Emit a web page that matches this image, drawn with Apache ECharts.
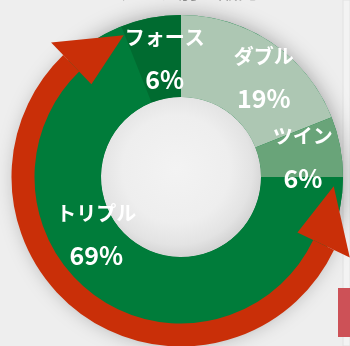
<!DOCTYPE html>
<html>
<head>
<meta charset="utf-8">
<script src="https://cdn.jsdelivr.net/npm/echarts@6/dist/echarts.min.js"></script>
<style>
  html, body { margin: 0; padding: 0; background: #eeeeee; }
  #chart { width: 350px; height: 346px; }
</style>
</head>
<body>
<div id="chart"></div>
<script>
// Room-type share of sales
const categories = ['ダブル', 'ツイン', 'トリプル', 'フォース'];
const shares = [19, 6, 69, 6];
const sliceColors = ['#adc7b3', '#69a479', '#007c3a', '#006b30'];
const titleText = 'ルームタイプ別の販売';

// label nudges (px) relative to the default inside position
const labelNudge = [[13, 4], [0, 5], [-15, -44], [7, 4]];

const CX = 181, CY = 177, R0 = 80, R1 = 162;

// Double-headed arc arrow wrapping the large slice
function arcArrow() {
  const ac = [181, 177], r = 158, w = 23;
  const a0 = 25.5 * Math.PI / 180, a1 = 226 * Math.PI / 180;
  const half = 29, tipR = 153, tipAng = 22 * Math.PI / 180;
  const pt = (rad, ang) => [ac[0] + rad * Math.cos(ang), ac[1] + rad * Math.sin(ang)];
  const head = (ang, dir) => [pt(r - half, ang), pt(r + half, ang), pt(tipR, ang + dir * tipAng)];
  const red = '#c92f08';
  return [
    { type: 'arc', z: 20, silent: true,
      shape: { cx: ac[0], cy: ac[1], r: r, startAngle: a0, endAngle: a1, clockwise: true },
      style: { stroke: red, lineWidth: w, fill: null, lineCap: 'butt' } },
    { type: 'polygon', z: 20, silent: true, shape: { points: head(a1, 1) }, style: { fill: red } },
    { type: 'polygon', z: 20, silent: true, shape: { points: head(a0, -1) }, style: { fill: red } }
  ];
}

const chart = echarts.init(document.getElementById('chart'), null, { renderer: 'canvas' });
chart.setOption({
  backgroundColor: '#eeeeee',
  animation: false,
  graphic: [
    { type: 'rect', z: 0, silent: true, shape: { x: 343, y: 0, width: 7, height: 346 },
      style: { fill: '#f3f3f3', stroke: '#e2e2e2', lineWidth: 1 } },
    { type: 'text', z: 1, silent: true, left: 58, top: -19,
      style: { text: titleText, fill: '#8a8a8a', font: 'bold 20px "Noto Sans CJK JP"' } },
    // soft shadow under the ring
    { type: 'ring', z: 0, silent: true, shape: { cx: CX, cy: CY, r: R1, r0: R0 },
      style: { fill: '#007c3a', shadowBlur: 22, shadowColor: 'rgba(0,0,0,0.38)', shadowOffsetX: 0, shadowOffsetY: 2 } },
    // shaded centre of the doughnut
    { type: 'circle', z: 1, silent: true, shape: { cx: CX, cy: CY, r: R0 },
      style: { fill: new echarts.graphic.RadialGradient(0.47, 0.45, 0.56, [
        { offset: 0, color: '#f3f3f3' },
        { offset: 0.6, color: '#eeeeee' },
        { offset: 0.85, color: '#e3e3e3' },
        { offset: 1, color: '#d2d2d2' }
      ]) } },
    { type: 'rect', z: 30, silent: true, shape: { x: 338, y: 288, width: 14, height: 49 },
      style: { fill: '#cd5157' } },
    ...arcArrow()
  ],
  series: [{
    type: 'pie',
    z: 5,
    center: [CX, CY],
    radius: [R0, R1],
    startAngle: 90,
    clockwise: true,
    percentPrecision: 0,
    avoidLabelOverlap: false,
    itemStyle: { borderWidth: 0 },
    label: {
      show: true,
      position: 'inside',
      color: '#ffffff',
      formatter: '{n|{b}}\n{p|{d}%}',
      rich: {
        n: { fontFamily: 'Noto Sans CJK JP', fontSize: 20, fontWeight: 'bold', color: '#fff', lineHeight: 40 },
        p: { fontFamily: 'Noto Sans CJK JP', fontSize: 25, fontWeight: 'bold', color: '#fff', lineHeight: 44 }
      }
    },
    labelLine: { show: false },
    labelLayout: function (p) {
      const d = labelNudge[p.dataIndex];
      return { dx: d[0], dy: d[1] };
    },
    emphasis: { disabled: true },
    data: categories.map((c, i) => ({ name: c, value: shares[i], itemStyle: { color: sliceColors[i] } }))
  }]
});
</script>
</body>
</html>
